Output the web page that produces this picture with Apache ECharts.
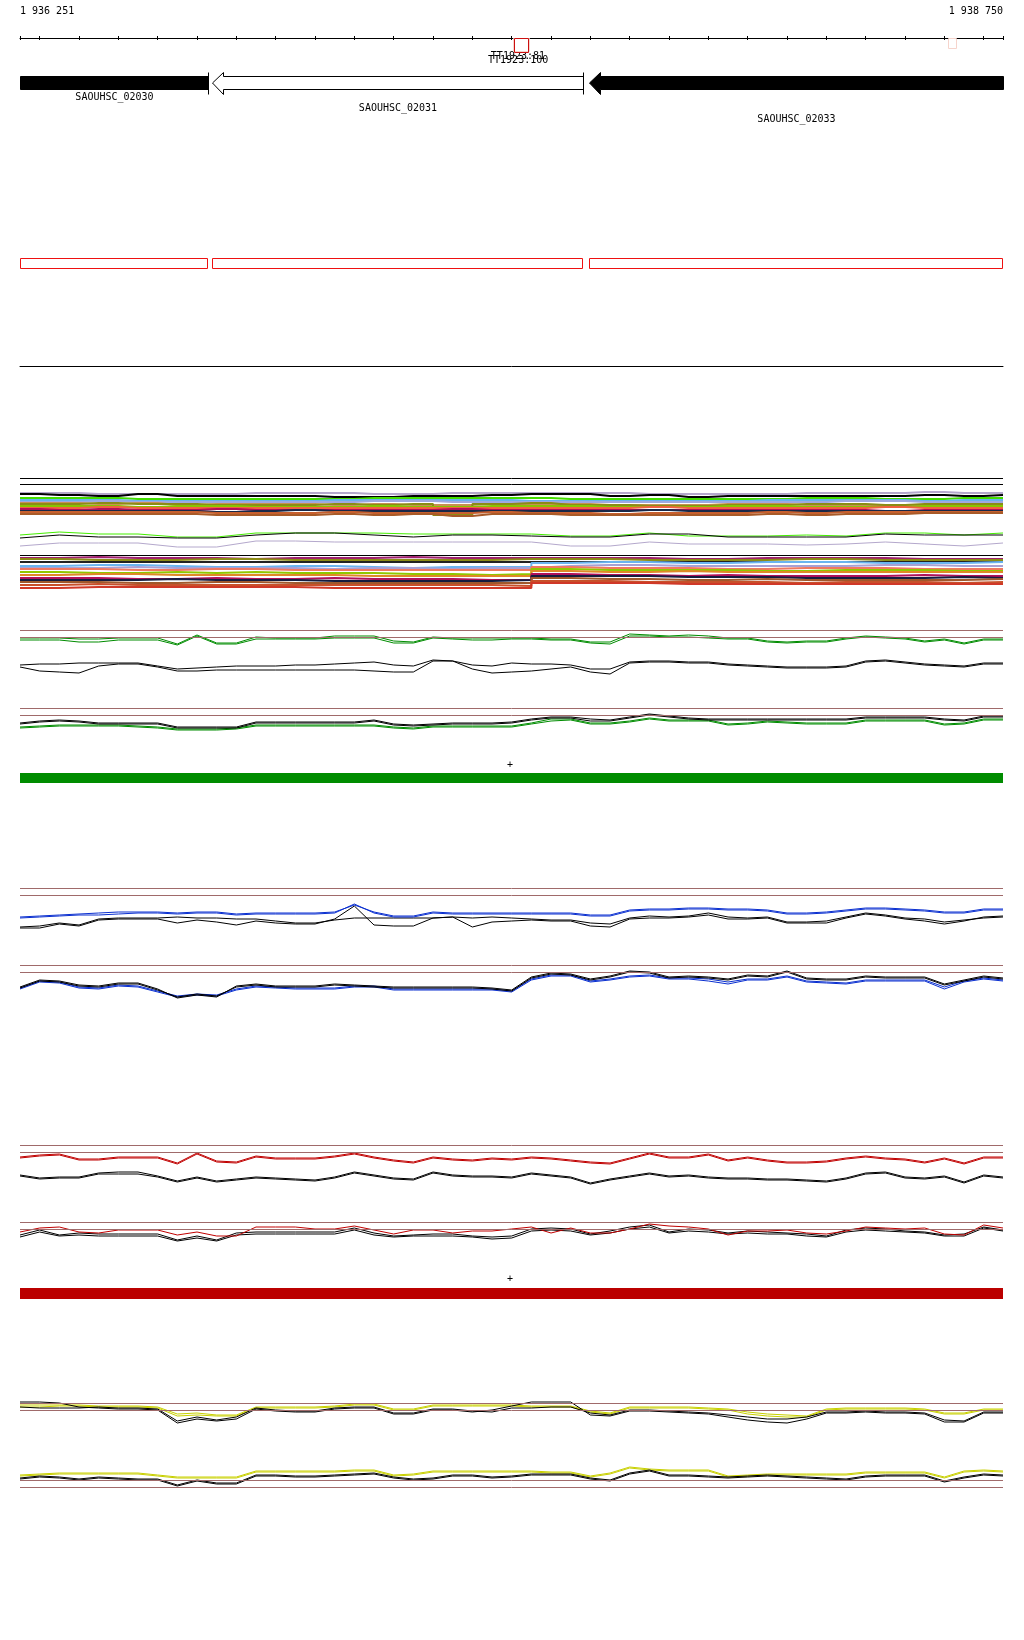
<!DOCTYPE html>
<html><head><meta charset="utf-8">
<script src="https://cdn.jsdelivr.net/npm/echarts@6/dist/echarts.min.js"></script>
<style>html,body{margin:0;padding:0;background:#fff}#c{width:1024px;height:1640px}</style>
</head><body><div id="c"></div>
<script>
// ---------- DATA ----------
const VIEW_START = 1936251, VIEW_END = 1938750;
const tickBp = [1936251,1936300,1936400,1936500,1936600,1936700,1936800,1936900,1937000,1937100,1937200,1937300,1937400,1937500,1937600,1937700,1937800,1937900,1938000,1938100,1938200,1938300,1938400,1938500,1938600,1938700,1938750];
const rulerLabels = [1936251, 1938750];

const featureNames = ['TT1923:81', 'TT1923:100', ''];
const featureStarts = [1937507, 1937505, 1938610];
const featureEnds = [1937542, 1937545, 1938631];

const geneNames = ['SAOUHSC_02030', 'SAOUHSC_02031', 'SAOUHSC_02033'];
const geneStarts = [1936251, 1936739, 1937698];
const geneEnds = [1936729, 1937682, 1938750];
const geneFill = ['solid', 'open', 'solid'];

const positions = [1936251,1936301,1936351,1936401,1936451,1936501,1936551,1936601,1936651,1936701,
1936751,1936801,1936851,1936901,1936951,1937001,1937051,1937101,1937151,1937201,
1937251,1937301,1937351,1937401,1937451,1937501,1937551,1937601,1937651,1937701,
1937751,1937801,1937851,1937901,1937951,1938001,1938051,1938101,1938151,1938201,
1938251,1938301,1938351,1938401,1938451,1938501,1938551,1938601,1938651,1938701,1938750];
const bandPositions = [1936251,1936351,1936451,1936551,1936651,1936751,1936851,1936951,1937051,1937151,1937251,1937351,1937451,1937551,1937651,1937751,1937851,1937951,1938051,1938151,1938251,1938351,1938451,1938551,1938651,1938750];

// band 1 (multi-sample lines)
const b1Lavender = [23,23,24,24,24,24,23,23,23,24,24,23,23,23,23,23,24,24,24,24,23,23,23,22,23,23];
const b1Black    = [24,25,26,24,26,26,26,26,27,27,26,26,25,24,24,26,25,27,26,26,26,26,26,25,26,25];
const b1Green    = [28,28,28,29,29,29,29,29,29,28,28,28,28,28,29,29,29,29,29,29,28,28,29,29,28,28];
const b1Blue     = [30,30,30,31,31,31,31,31,30,30,30,30,30,31,31,31,31,31,31,30,30,30,30,31,30,30];
const b1Peri     = [32,32,31,32,32,32,32,32,32,31,31,32,32,32,32,32,32,32,32,32,32,31,31,32,32,32];
const b1Tan      = [33,33,34,33,35,34,34,34,35,34,35,35,34,34,34,35,35,35,34,34,35,35,35,35,34,34];
const b1Olive    = [34,34,33,34,34,35,35,35,34,35,34,45,34,33,35,35,36,36,35,35,34,34,35,34,34,34];
const b1YG       = [36,36,36,37,36,36,37,37,37,36,37,37,36,36,36,37,37,37,36,36,37,37,37,36,36,36];
const b1Red      = [38,38,37,38,38,38,38,38,38,38,38,38,38,38,38,38,37,38,38,38,38,38,37,38,38,38];
const b1Crimson  = [39,40,39,40,40,39,40,40,40,40,40,39,40,40,40,40,40,40,40,40,40,40,41,40,40,40];
const b1Navy     = [41,41,41,41,41,42,41,40,41,41,41,41,41,41,41,41,40,41,41,41,41,41,41,41,41,41];
const b1Rust     = [42,42,42,42,42,43,43,43,42,43,43,43,42,43,43,44,43,43,43,42,43,42,42,42,42,42];
const b1Brown    = [44,44,44,44,44,45,45,45,44,45,44,46,44,44,45,45,45,45,45,44,45,44,44,43,43,43];

// middle lines
const midGreen    = [10,7,9,9,12,12,8,8,8,8,9,9,9,9,11,11,8,11,11,11,10,11,8,8,10,8];
const midBlack    = [13,10,12,12,13,13,10,8,8,10,12,10,10,11,12,12,9,9,12,12,12,12,9,10,10,10];
const midLavender = [21,18,18,18,22,22,16,16,17,17,17,17,17,17,21,21,17,19,19,19,20,19,17,19,21,18];

// band 2
const b2Magenta = [8,7,8,8,8,9,8,8,8,7,8,8,8,8,8,8,9,9,8,8,8,8,9,9,9,9];
const b2Olive   = [9,10,10,10,9,9,10,10,10,10,10,10,9,9,9,10,10,10,10,9,9,10,10,10,10,10];
const b2Dark    = [12,12,12,12,12,12,12,12,12,12,12,12,12,12,12,12,12,12,12,12,12,12,12,12,12,12];
const b2Blue    = [16,15,15,16,17,17,16,16,17,18,17,17,17,13,12,12,13,13,12,12,12,13,13,13,12,12];
const b2Lav     = [18,18,17,18,18,18,18,19,18,18,19,18,18,16,15,15,16,16,16,16,16,15,15,16,16,16];
const b2Salmon  = [19,19,20,20,19,19,20,20,20,20,20,20,20,17,18,18,18,19,19,18,18,18,19,19,19,19];
const b2YG      = [22,23,23,22,23,22,23,23,23,24,24,25,24,19,20,20,20,20,21,21,20,20,20,21,21,21];
const b2Orange  = [25,24,24,25,25,25,25,25,26,26,26,26,26,21,22,22,21,22,22,22,22,22,22,22,22,22];
const b2Crimson = [28,28,29,29,28,29,29,28,29,29,29,30,30,24,25,25,26,25,26,26,26,26,25,26,26,26];
const b2Navy    = [30,30,30,29,30,30,30,31,31,31,31,31,30,26,26,26,27,27,27,28,28,28,28,27,28,28];
const b2Brown   = [32,32,33,33,32,32,33,33,33,33,33,33,33,28,29,29,30,30,29,30,30,30,30,30,29,29];
const b2Rust    = [35,34,35,35,35,35,35,35,35,35,35,35,36,31,31,32,32,32,32,33,32,32,32,33,32,32];
const b2Red     = [38,37,37,37,37,37,37,38,38,38,38,38,38,33,33,33,34,34,34,34,34,34,34,34,34,34];

// green tracks
const greenA1 = [13,13,13,14,14,13,13,13,19,10,18,18,12,13,13,13,11,11,11,16,17,12,13,13,13,13,13,14,14,17,17,9,10,11,10,11,13,13,16,17,16,16,13,11,12,13,16,14,18,14,14];
const greenA2 = [15,15,15,17,17,15,15,15,20,11,19,19,14,14,14,14,13,13,13,18,18,13,14,15,15,14,14,15,15,18,19,11,11,12,12,13,14,14,17,18,17,17,14,12,13,14,17,15,19,15,15];
const blackA1 = [40,39,39,38,38,38,38,41,44,43,42,41,41,41,40,40,39,38,37,40,41,35,36,40,41,38,39,39,40,44,44,37,36,36,37,37,39,40,41,42,42,42,41,36,35,37,39,40,41,38,38];
const blackA2 = [42,46,47,48,41,39,39,42,46,46,45,45,45,45,45,45,45,45,46,47,47,36,36,44,48,47,46,44,42,47,49,38,37,37,38,38,40,41,42,43,43,43,42,37,36,38,40,41,42,39,39];
const greenB1 = [27,26,25,25,25,25,26,27,29,29,29,28,25,25,25,25,25,25,25,27,28,26,26,26,26,26,23,19,19,23,23,21,18,20,20,20,24,23,21,22,23,23,23,20,20,20,20,24,23,19,19];
const greenB2 = [28,27,26,26,26,26,27,28,30,30,30,29,26,26,26,26,26,26,26,28,29,27,27,27,27,27,24,21,20,24,24,22,19,21,21,21,25,24,22,23,24,24,24,21,21,21,21,25,24,20,20];
const blackB1 = [23,21,20,21,23,23,23,23,27,27,27,27,22,22,22,22,22,22,20,24,25,24,23,23,23,22,19,17,17,19,20,17,14,16,18,19,19,19,19,19,19,19,19,17,17,17,17,19,20,16,16];
const blackB2 = [24,22,21,22,24,24,24,24,28,28,28,28,23,23,23,23,23,23,21,25,26,25,24,24,24,23,20,18,18,21,21,18,15,17,19,20,20,20,20,20,20,20,20,18,18,18,18,20,21,17,17];

// blue tracks
const blueC1  = [37,36,35,34,33,32,32,32,33,32,32,34,33,33,33,33,32,25,32,36,36,32,33,33,33,33,33,33,33,35,35,30,29,29,28,28,29,29,30,33,33,32,30,28,28,29,30,32,32,29,29];
const blueC2  = [38,37,36,35,35,34,33,33,34,33,33,35,34,34,34,34,33,24,33,37,37,33,34,34,34,34,34,34,34,36,36,31,30,30,29,29,30,30,31,34,34,33,31,29,29,30,31,33,33,30,30];
const blackC1 = [47,46,43,45,39,38,38,38,37,38,38,39,39,41,43,43,40,38,38,38,38,38,37,38,37,38,39,40,40,43,44,38,36,37,36,33,37,38,37,42,42,41,37,33,35,38,39,42,40,38,37];
const blackC2 = [48,48,44,46,40,39,39,39,43,40,42,45,41,43,44,44,39,26,45,46,46,38,37,47,42,41,40,41,41,46,47,39,38,38,37,35,39,39,38,43,43,43,38,34,36,39,41,44,41,37,36];
const blueD1  = [28,21,22,27,28,25,26,31,36,34,35,29,26,27,28,28,28,26,26,29,29,29,29,29,29,31,19,15,15,21,19,16,15,18,18,19,22,19,19,16,21,22,23,20,20,20,20,27,21,18,20];
const blueD2  = [29,22,23,28,29,26,27,32,37,35,36,30,27,28,29,29,29,27,27,30,30,30,30,30,30,32,20,16,16,22,20,17,16,19,19,21,24,20,20,17,22,23,24,21,21,21,21,29,22,19,21];
const blackD1 = [28,21,22,26,27,24,24,30,37,34,36,27,25,27,27,27,25,26,27,28,28,28,28,28,29,31,18,14,15,20,17,12,13,18,17,18,20,16,17,12,19,20,20,17,18,18,18,25,21,17,19];
const blackD2 = [27,20,21,25,26,23,23,29,38,35,37,26,24,26,26,26,24,25,26,27,27,27,27,27,28,30,17,13,14,19,16,11,12,17,16,17,19,15,16,11,18,19,19,16,17,17,17,24,20,16,18];

// red tracks
const redE1   = [17,15,14,19,19,17,17,17,23,13,21,22,16,18,18,18,16,13,17,20,22,17,19,20,18,19,17,18,20,22,23,18,13,17,17,14,20,17,20,22,22,21,18,16,18,19,22,18,23,17,17];
const redE2   = [18,16,15,20,20,18,18,18,24,14,22,23,17,19,19,19,17,14,18,21,23,18,20,21,19,20,18,19,21,23,24,19,14,18,18,15,21,18,21,23,23,22,19,17,19,20,23,19,24,18,18];
const blackE1 = [35,38,37,37,33,32,32,36,41,37,41,39,37,38,39,40,37,32,35,38,39,32,35,36,36,37,33,35,37,43,39,36,33,36,35,37,38,38,39,39,40,41,38,33,32,37,38,36,42,35,37];
const blackE2 = [36,39,38,38,34,34,34,37,42,38,42,40,38,39,40,41,38,33,36,39,40,33,36,37,37,38,34,36,38,44,40,37,34,37,36,38,39,39,40,40,41,42,39,34,33,38,39,37,43,36,38];
const redF1   = [17,13,12,17,18,15,15,15,20,17,21,21,12,12,12,14,14,11,15,19,15,15,18,16,16,14,12,18,13,18,18,14,9,11,12,14,20,16,16,15,18,19,16,12,13,14,13,19,20,10,13];
const blackF1 = [20,15,20,18,19,19,19,19,25,21,25,18,17,17,17,17,17,13,18,21,20,19,19,21,22,21,14,13,14,19,16,12,10,17,14,15,18,16,17,18,19,21,15,13,14,16,17,20,19,12,15];
const blackF2 = [22,17,21,20,21,21,21,21,26,23,26,20,19,19,19,19,19,15,20,22,21,21,21,22,24,23,16,15,16,20,18,14,12,18,16,17,19,18,19,19,21,22,17,15,16,17,18,21,21,13,16];

// yellow tracks
const yellowG1 = [10,10,10,10,11,11,11,12,19,18,20,20,12,12,12,12,11,9,9,14,14,10,10,10,10,10,11,11,11,16,18,12,12,12,12,13,14,17,19,20,21,14,13,13,13,13,14,18,18,14,14];
const yellowG2 = [12,12,11,11,12,12,12,13,21,20,21,21,13,13,13,13,12,10,10,15,15,11,11,11,11,11,12,12,12,17,19,13,13,13,13,14,15,19,21,22,22,15,14,14,14,14,15,19,19,15,15];
const blackG1  = [12,13,13,13,12,13,13,14,26,22,25,22,13,15,16,16,13,12,12,18,18,14,14,16,17,13,13,12,12,18,20,15,15,16,17,18,20,22,24,24,22,17,17,16,17,17,18,25,26,17,17];
const blackG2  = [7,7,8,12,13,14,14,15,28,24,26,24,14,16,17,17,14,13,13,19,19,15,15,17,15,11,7,7,7,20,21,16,16,17,18,19,22,25,27,28,24,18,18,17,18,18,19,27,27,18,18];
const yellowH1 = [15,14,13,13,13,13,13,15,17,17,17,17,11,11,11,11,11,10,10,15,14,11,11,11,11,11,11,12,12,16,13,7,9,10,10,10,16,15,14,14,14,14,14,12,12,12,12,17,11,10,11];
const yellowH2 = [16,15,14,14,14,14,14,16,18,18,18,18,12,12,12,12,12,11,11,16,15,12,12,12,12,12,12,13,13,17,14,8,10,11,11,11,17,16,15,15,15,15,15,13,13,13,13,18,12,11,12];
const blackH1  = [18,16,17,19,17,18,19,19,25,20,23,23,15,15,16,16,15,14,13,17,19,18,15,15,17,16,14,14,14,18,20,13,10,15,15,16,17,16,15,16,17,18,19,16,15,15,15,21,17,14,15];
const blackH2  = [19,17,18,20,18,19,20,20,26,21,24,24,16,16,17,17,16,15,14,18,20,19,16,16,18,17,15,15,15,19,21,14,11,16,16,17,18,17,16,17,18,19,20,17,16,16,16,22,18,15,16];

// reference levels per track
const refA = [5, 12], refB = [8, 15], refC = [8, 15], refD = [5, 12];
const refE = [5, 12], refF = [7, 14], refG = [8, 15], refH = [20, 27];
const refBand1 = [8, 14], refBand2 = [5];

// ---------- LAYOUT ----------
const FONT = '10px "DejaVu Sans Mono", "Liberation Mono", monospace';
const BROWN = '#a06a6a';
const grids = [
  {top: 28, height: 40},   // 0 ruler (y -10..30)
  {top: 68, height: 56},   // 1 genes
  {top: 255, height: 16},  // 2 gene outlines
  {top: 340, height: 26},  // 3 empty track
  {top: 470, height: 55},  // 4 band1
  {top: 525, height: 28},  // 5 mid
  {top: 550, height: 45},  // 6 band2
  {top: 625, height: 55},  // 7 A
  {top: 700, height: 40},  // 8 B
  {top: 770, height: 16},  // 9 green bar
  {top: 880, height: 55},  // 10 C
  {top: 960, height: 45},  // 11 D
  {top: 1140, height: 50}, // 12 E
  {top: 1215, height: 35}, // 13 F
  {top: 1285, height: 16}, // 14 red bar
  {top: 1395, height: 40}, // 15 G
  {top: 1460, height: 32}  // 16 H
];
const spaced = v => String(v).replace(/\B(?=(\d{3})+(?!\d))/g, ' ');

const xAxes = grids.map((g, i) => ({
  type: 'value', gridIndex: i, min: VIEW_START, max: VIEW_END, show: false
}));
xAxes[0] = {
  type: 'value', gridIndex: 0, min: VIEW_START, max: VIEW_END, position: 'top',
  axisLine: {show: true, onZero: true, lineStyle: {color: '#000', width: 1}},
  axisTick: {show: false}, splitLine: {show: false},
  axisLabel: {show: true, customValues: rulerLabels, formatter: spaced, margin: 12,
    alignMinLabel: 'left', alignMaxLabel: 'right', color: '#000', fontFamily: '"DejaVu Sans Mono", monospace', fontSize: 10}
};
xAxes[3] = {
  type: 'value', gridIndex: 3, min: VIEW_START, max: VIEW_END, position: 'bottom',
  axisLine: {show: true, onZero: false, lineStyle: {color: '#000', width: 1}},
  axisTick: {show: false}, axisLabel: {show: false}, splitLine: {show: false}
};
const yAxes = grids.map((g, i) => ({
  type: 'value', gridIndex: i, min: i === 0 ? -10 : 0, max: i === 0 ? 30 : g.height,
  inverse: true, show: false, splitLine: {show: false}
}));

const series = [];
function addLine(g, xs, ys, color, step, width) {
  series.push({
    type: 'line', xAxisIndex: g, yAxisIndex: g, silent: true, animation: false,
    data: xs.map((x, i) => [x, ys[i]]), symbol: 'none', showSymbol: false,
    step: step || false, lineStyle: {color: color, width: width || 1}
  });
}
function addRefs(g, levels, color) {
  series.push({
    type: 'line', xAxisIndex: g, yAxisIndex: g, data: [], silent: true, animation: false,
    markLine: {silent: true, symbol: ['none', 'none'], label: {show: false}, animation: false,
      lineStyle: {color: color, width: 1, type: 'solid'},
      data: levels.map(v => ({yAxis: v}))}
  });
}

// ruler ticks
series.push({
  type: 'custom', xAxisIndex: 0, yAxisIndex: 0, silent: true, animation: false,
  data: tickBp.map(b => [b]),
  renderItem: (p, api) => {
    const a = api.coord([api.value(0), -2]), b = api.coord([api.value(0), 2]);
    return {type: 'line', shape: {x1: Math.round(a[0]) + 0.5, y1: a[1], x2: Math.round(a[0]) + 0.5, y2: b[1]}, style: {stroke: '#000', lineWidth: 1}};
  }
});
// features
const featureStroke = ['#cc1010', '#f6d4cc', '#f6d4cc'];
const featureDepth = [14, 13, 10];
series.push({
  type: 'custom', xAxisIndex: 0, yAxisIndex: 0, silent: true, animation: false, z: 3,
  data: featureStarts.map((s, i) => [s, featureEnds[i]]),
  renderItem: (p, api) => {
    const i = p.dataIndex;
    const a = api.coord([api.value(0), 0]), b = api.coord([api.value(1), featureDepth[i]]);
    const kids = [{type: 'rect', shape: {x: Math.round(a[0]) + 0.5, y: a[1] + 0.5, width: Math.round(b[0] - a[0]), height: b[1] - a[1]},
      style: {fill: 'none', stroke: featureStroke[i], lineWidth: 1}, z2: i === 0 ? 10 : 1}];
    if (featureNames[i]) {
      kids.push({type: 'text', style: {text: featureNames[i], x: (a[0] + b[0]) / 2 - 3, y: api.coord([0, 18.5 + i * 3.5])[1],
        align: 'center', verticalAlign: 'middle', font: FONT, fill: '#000'}});
    }
    return {type: 'group', children: kids};
  }
});
// genes
series.push({
  type: 'custom', xAxisIndex: 1, yAxisIndex: 1, silent: true, animation: false,
  data: geneStarts.map((s, i) => [s, geneEnds[i]]),
  renderItem: (p, api) => {
    const i = p.dataIndex;
    const s = api.value(0), e = api.value(1);
    const x0 = Math.round(api.coord([s, 0])[0]) + 0.5, x1 = Math.round(api.coord([e, 0])[0]) + 0.5;
    const yT = api.coord([s, 8])[1] + 0.5, yB = api.coord([s, 21])[1] + 0.5;
    const hT = api.coord([s, 4])[1] + 0.5, hB = api.coord([s, 26])[1] + 0.5;
    const ym = (yT + yB) / 2, hl = 11;
    const solid = geneFill[i] === 'solid';
    const pts = s > VIEW_START
      ? [[x0, ym], [x0 + hl, hT], [x0 + hl, yT], [x1, yT], [x1, yB], [x0 + hl, yB], [x0 + hl, hB]]
      : [[x0, yT], [x1, yT], [x1, yB], [x0, yB]];
    const kids = [{type: 'polygon', shape: {points: pts}, style: {fill: solid ? '#000' : '#fff', stroke: '#000', lineWidth: 1}}];
    if (e < VIEW_END) kids.push({type: 'line', shape: {x1: x1, y1: hT, x2: x1, y2: hB}, style: {stroke: '#000', lineWidth: 1}});
    kids.push({type: 'text', style: {text: geneNames[i], x: (x0 + x1) / 2, y: api.coord([s, 29 + (i % 3) * 11])[1],
      align: 'center', verticalAlign: 'middle', font: FONT, fill: '#000'}});
    return {type: 'group', children: kids};
  }
});
// gene outlines
series.push({
  type: 'custom', xAxisIndex: 2, yAxisIndex: 2, silent: true, animation: false,
  data: geneStarts.map((s, i) => [s, geneEnds[i]]),
  renderItem: (p, api) => {
    const a = api.coord([api.value(0), 3]), b = api.coord([api.value(1), 13]);
    return {type: 'rect', shape: {x: Math.round(a[0]) + 0.5, y: a[1] + 0.5, width: Math.round(b[0] - a[0]) - 1, height: b[1] - a[1]},
      style: {fill: 'none', stroke: '#ee1111', lineWidth: 1}};
  }
});
series.push({type: 'line', xAxisIndex: 3, yAxisIndex: 3, data: [], silent: true});

// bands
addRefs(4, refBand1, '#000');
[[b1Lavender,'#b4a8cc'],[b1Black,'#000000'],[b1Green,'#44dd00'],[b1Blue,'#66b2f0'],[b1Peri,'#a0a8e0'],
 [b1Tan,'#c89050'],[b1Olive,'#8c8c14'],[b1YG,'#88c400'],[b1Red,'#f06040'],[b1Crimson,'#b0105a'],
 [b1Navy,'#182848'],[b1Rust,'#c8602e'],[b1Brown,'#a85a28']].forEach(([v, c]) => addLine(4, bandPositions, v, c, 'middle', 2));
addLine(5, bandPositions, midLavender, '#b4a8cc');
addLine(5, bandPositions, midGreen, '#44ee00');
addLine(5, bandPositions, midBlack, '#000');
addRefs(6, refBand2, '#000');
[[b2Magenta,'#a0206e'],[b2Olive,'#8c8c14'],[b2Dark,'#222222'],[b2Blue,'#6ab4f0'],[b2Lav,'#a8a0d4'],
 [b2Salmon,'#f07860'],[b2YG,'#90c800'],[b2Orange,'#e08828'],[b2Crimson,'#b0105a'],[b2Navy,'#141c40'],
 [b2Brown,'#a0582c'],[b2Rust,'#c8502a'],[b2Red,'#d03828']].forEach(([v, c]) => addLine(6, bandPositions, v, c, 'end', 2));

// green section
addRefs(7, refA, BROWN);
addLine(7, positions, greenA1, '#008c00'); addLine(7, positions, greenA2, '#008c00');
addLine(7, positions, blackA1, '#000'); addLine(7, positions, blackA2, '#000');
addRefs(8, refB, BROWN);
addLine(8, positions, greenB1, '#008c00'); addLine(8, positions, greenB2, '#008c00');
addLine(8, positions, blackB1, '#000'); addLine(8, positions, blackB2, '#000');

// blue section
addRefs(10, refC, BROWN);
addLine(10, positions, blackC1, '#000'); addLine(10, positions, blackC2, '#000');
addLine(10, positions, blueC1, '#0a2fd0'); addLine(10, positions, blueC2, '#0a2fd0');
addRefs(11, refD, BROWN);
addLine(11, positions, blueD1, '#0a2fd0'); addLine(11, positions, blueD2, '#0a2fd0');
addLine(11, positions, blackD1, '#000'); addLine(11, positions, blackD2, '#000');

// red section
addRefs(12, refE, BROWN);
addLine(12, positions, redE1, '#c00000'); addLine(12, positions, redE2, '#c00000');
addLine(12, positions, blackE1, '#000'); addLine(12, positions, blackE2, '#000');
addRefs(13, refF, BROWN);
addLine(13, positions, blackF1, '#000'); addLine(13, positions, blackF2, '#000');
addLine(13, positions, redF1, '#c00000');

// yellow section
addRefs(15, refG, BROWN);
addLine(15, positions, yellowG1, '#c8d000'); addLine(15, positions, yellowG2, '#c8d000');
addLine(15, positions, blackG1, '#000'); addLine(15, positions, blackG2, '#000');
addRefs(16, refH, BROWN);
addLine(16, positions, yellowH1, '#c8d000'); addLine(16, positions, yellowH2, '#c8d000');
addLine(16, positions, blackH1, '#000'); addLine(16, positions, blackH2, '#000');

// coloured bars
function addBar(g, color, y0, y1) {
  series.push({
    type: 'custom', xAxisIndex: g, yAxisIndex: g, silent: true, animation: false,
    data: [[VIEW_START, VIEW_END]],
    renderItem: (p, api) => {
      const a = api.coord([api.value(0), y0]), b = api.coord([api.value(1), y1]);
      return {type: 'rect', shape: {x: a[0], y: a[1], width: b[0] - a[0], height: b[1] - a[1]}, style: {fill: color}};
    }
  });
}
addBar(9, '#008c00', 3, 13);
addBar(14, '#bb0000', 3, 14);

const chart = echarts.init(document.getElementById('c'), null, {renderer: 'canvas'});
chart.setOption({
  animation: false,
  backgroundColor: '#fff',
  grid: grids.map(g => ({left: 20, right: 21, top: g.top, height: g.height, containLabel: false})),
  xAxis: xAxes,
  yAxis: yAxes,
  series: series,
  graphic: [
    {type: 'text', left: 507, top: 760, style: {text: '+', font: FONT, fill: '#000'}},
    {type: 'text', left: 507, top: 1274, style: {text: '+', font: FONT, fill: '#000'}}
  ]
});
</script></body></html>
